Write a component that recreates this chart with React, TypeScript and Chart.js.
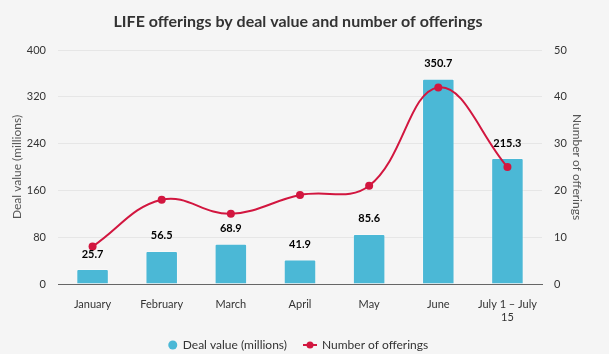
import React, { useEffect, useRef } from "react";
import { Chart, registerables } from "chart.js";

Chart.register(...registerables);

const titleText = "LIFE offerings by deal value and number of offerings";
const categories: (string | string[])[] = ["January", "February", "March", "April", "May", "June", ["July 1 – July", "15"]];
const dealValues = [25.7, 56.5, 68.9, 41.9, 85.6, 350.7, 215.3];
const offerings = [8, 18, 15, 19, 21, 42, 25];
const leftAxis = { min: 0, max: 400, step: 80, title: "Deal value (millions)" };
const rightAxis = { min: 0, max: 50, step: 10, title: "Number of offerings" };
const seriesNames = ["Deal value (millions)", "Number of offerings"];

const BG = "#f5f5f5";
const BAR = "#4bb8d6";
const LINE = "#d2163f";
const FONT = "Lato, 'Open Sans', sans-serif";

export default function App() {
  const ref = useRef<HTMLCanvasElement | null>(null);

  useEffect(() => {
    document.body.style.margin = "0";
    document.body.style.background = BG;
    const canvas = ref.current!;

    const bgPlugin = {
      id: "bg",
      beforeDraw(chart: any) {
        const ctx = chart.ctx;
        ctx.save();
        ctx.fillStyle = BG;
        ctx.fillRect(0, 0, chart.width, chart.height);
        ctx.restore();
      },
    };

    const decorPlugin = {
      id: "decor",
      afterDatasetsDraw(chart: any) {
        const ctx = chart.ctx;
        const meta = chart.getDatasetMeta(0);
        ctx.save();
        ctx.font = `bold 11px ${FONT}`;
        ctx.fillStyle = "#000";
        ctx.textAlign = "center";
        ctx.textBaseline = "middle";
        meta.data.forEach((el: any, i: number) => {
          ctx.fillText(dealValues[i].toFixed(1), el.x, el.y - 15);
        });
        ctx.restore();
      },
      afterDraw(chart: any) {
        const ctx = chart.ctx;
        const ca = chart.chartArea;
        const cx = (ca.left + ca.right) / 2 - 2;
        ctx.save();
        // title
        ctx.font = `bold 16px ${FONT}`;
        ctx.fillStyle = "#333";
        ctx.textAlign = "center";
        ctx.textBaseline = "middle";
        ctx.fillText(titleText, cx, 22);
        // legend
        ctx.font = `12px ${FONT}`;
        const y = 345;
        const w1 = ctx.measureText(seriesNames[0]).width;
        const w2 = ctx.measureText(seriesNames[1]).width;
        const sym1 = 10, sym2 = 14, gapT = 5, gapI = 16;
        const total = sym1 + gapT + w1 + gapI + sym2 + gapT + w2;
        let x = cx - total / 2;
        ctx.fillStyle = BAR;
        ctx.beginPath();
        ctx.arc(x + sym1 / 2, y, 4.5, 0, Math.PI * 2);
        ctx.fill();
        x += sym1 + gapT;
        ctx.fillStyle = "#333";
        ctx.textAlign = "left";
        ctx.fillText(seriesNames[0], x, y);
        x += w1 + gapI;
        ctx.strokeStyle = LINE;
        ctx.lineWidth = 2;
        ctx.beginPath();
        ctx.moveTo(x, y);
        ctx.lineTo(x + sym2, y);
        ctx.stroke();
        ctx.fillStyle = LINE;
        ctx.beginPath();
        ctx.arc(x + sym2 / 2, y, 3.5, 0, Math.PI * 2);
        ctx.fill();
        x += sym2 + gapT;
        ctx.fillStyle = "#333";
        ctx.fillText(seriesNames[1], x, y);
        ctx.restore();
      },
    };

    const chart = new Chart(canvas, {
      type: "bar",
      data: {
        labels: categories as any,
        datasets: [
          {
            type: "bar",
            label: seriesNames[0],
            data: dealValues,
            backgroundColor: BAR,
            borderColor: "rgba(255,255,255,0.35)",
            borderWidth: 1,
            borderRadius: 2,
            borderSkipped: "bottom",
            barPercentage: 0.47,
            categoryPercentage: 1,
            yAxisID: "y",
            order: 1,
          } as any,
          {
            type: "line",
            label: seriesNames[1],
            data: offerings,
            borderColor: LINE,
            backgroundColor: LINE,
            borderWidth: 2,
            pointRadius: 4,
            pointBackgroundColor: LINE,
            pointBorderWidth: 0,
            tension: 0.4,
            yAxisID: "y1",
            order: 0,
          } as any,
        ],
      },
      options: {
        animation: false,
        responsive: false,
        maintainAspectRatio: false,
        layout: { padding: { left: 10, right: 25, top: 50, bottom: 0 } },
        plugins: {
          legend: { display: false },
          title: { display: false },
          tooltip: { enabled: false },
        },
        scales: {
          x: {
            grid: { display: false, drawTicks: false },
            border: { display: true, color: "#666", width: 1 },
            ticks: { color: "#333", font: { family: FONT, size: 11 }, padding: 14, maxRotation: 0, autoSkip: false },
            afterFit(scale: any) {
              scale.height = 70;
            },
          },
          y: {
            position: "left",
            min: leftAxis.min,
            max: leftAxis.max,
            ticks: { stepSize: leftAxis.step, color: "#333", font: { family: FONT, size: 11 }, padding: 12 },
            grid: { color: "#e6e6e6", drawTicks: false },
            border: { display: false },
            title: { display: true, text: leftAxis.title, color: "#555", font: { family: FONT, size: 12 }, padding: 0 },
            afterFit(scale: any) {
              scale.width = 48;
            },
          },
          y1: {
            position: "right",
            min: rightAxis.min,
            max: rightAxis.max,
            ticks: { stepSize: rightAxis.step, color: "#333", font: { family: FONT, size: 11 }, padding: 12 },
            grid: { drawOnChartArea: false, drawTicks: false },
            border: { display: false },
            title: { display: true, text: rightAxis.title, color: "#555", font: { family: FONT, size: 12 }, padding: 0 },
            afterFit(scale: any) {
              scale.width = 42;
            },
          },
        },
      } as any,
      plugins: [bgPlugin, decorPlugin],
    });
    return () => chart.destroy();
  }, []);

  return (
    <div style={{ width: 609, height: 354 }}>
      <canvas ref={ref} width={609} height={354} style={{ display: "block", width: 609, height: 354 }} />
    </div>
  );
}
